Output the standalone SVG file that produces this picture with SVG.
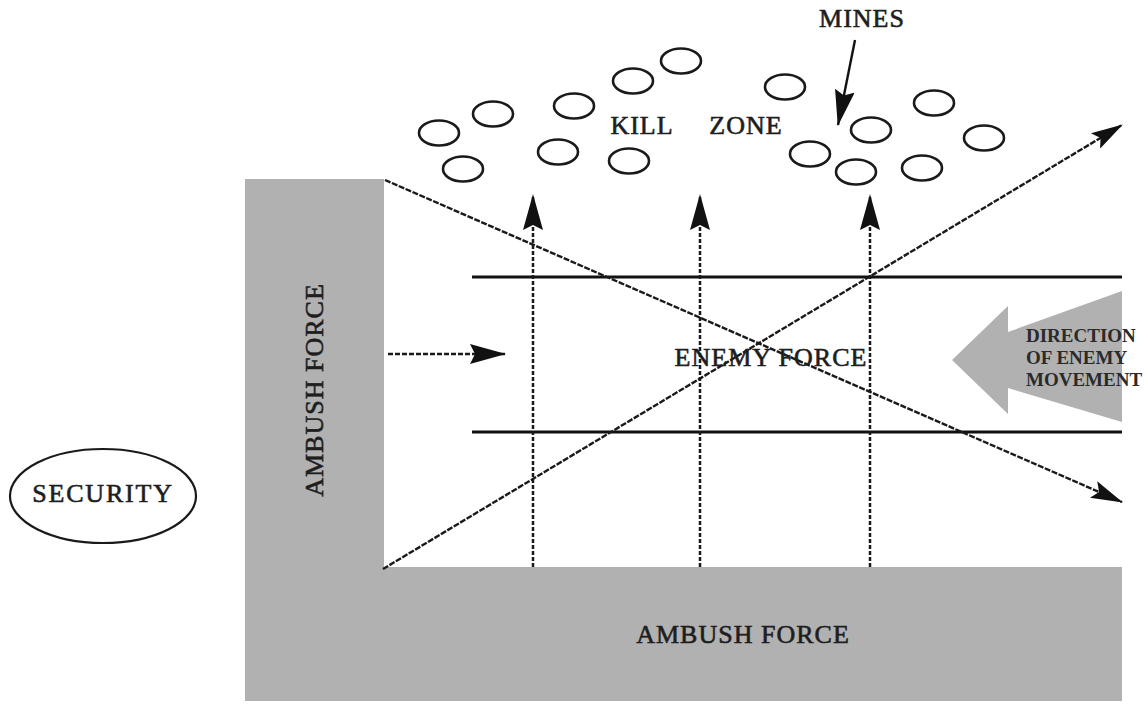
<svg xmlns="http://www.w3.org/2000/svg" width="1148" height="705" viewBox="0 0 1148 705">
<style>
.t{font-family:"Liberation Serif","Times New Roman",serif;font-size:26px;letter-spacing:1px;fill:#1e1e1e;stroke:#1e1e1e;stroke-width:0.6px;text-anchor:middle}
.d{font-family:"Liberation Serif","Times New Roman",serif;font-size:19px;font-weight:bold;fill:#2a2a2a}
.gray{fill:#b1b1b1}
.mine{fill:none;stroke:#1a1a1a;stroke-width:2.6}
.solid{stroke:#111;stroke-width:3.2;fill:none}
.diag{stroke:#1a1a1a;stroke-width:2.4;fill:none;stroke-dasharray:6 1.5}
.vdash{stroke:#1a1a1a;stroke-width:2.5;fill:none;stroke-dasharray:4 2}
.hdash{stroke:#1a1a1a;stroke-width:2.4;fill:none;stroke-dasharray:5 2}
</style>
<defs>
<marker id="ah" markerUnits="userSpaceOnUse" markerWidth="36" markerHeight="20" viewBox="0 0 36 20" refX="35" refY="10" orient="auto"><path d="M0,0 L36,10 L0,20 L5,10 z" fill="#111"/></marker>
<marker id="ah2" markerUnits="userSpaceOnUse" markerWidth="32" markerHeight="18" viewBox="0 0 32 18" refX="31" refY="9" orient="auto"><path d="M0,0 L32,9 L0,18 L6,9 z" fill="#111"/></marker>
</defs>
<rect width="1148" height="705" fill="#fff"/>

<g id="ambush-force-left">
<rect class="gray" x="245" y="179" width="139" height="522"/>
<text class="t" transform="translate(323,390) rotate(-90)">AMBUSH FORCE</text>
</g>
<g id="ambush-force-bottom">
<rect class="gray" x="245" y="567" width="877" height="134"/>
<text class="t" x="743" y="643">AMBUSH FORCE</text>
</g>

<g id="security">
<ellipse cx="103" cy="496" rx="93" ry="47" fill="none" stroke="#1a1a1a" stroke-width="2.2"/>
<text class="t" x="103" y="502" style="letter-spacing:1.8px">SECURITY</text>
</g>

<g id="kill-zone">
<text class="t" x="642" y="134">KILL</text>
<text class="t" x="746" y="134">ZONE</text>
</g>

<g id="mines">
<text class="t" x="862" y="27">MINES</text>
<ellipse class="mine" cx="439" cy="133" rx="20" ry="12.5"/>
<ellipse class="mine" cx="493" cy="114" rx="20" ry="12.5"/>
<ellipse class="mine" cx="463" cy="169" rx="20" ry="12.5"/>
<ellipse class="mine" cx="574" cy="106" rx="20" ry="12.5"/>
<ellipse class="mine" cx="558" cy="152" rx="20" ry="12.5"/>
<ellipse class="mine" cx="633" cy="81" rx="20" ry="12.5"/>
<ellipse class="mine" cx="681" cy="61" rx="20" ry="12.5"/>
<ellipse class="mine" cx="629" cy="161" rx="20" ry="12.5"/>
<ellipse class="mine" cx="785" cy="87" rx="20" ry="12.5"/>
<ellipse class="mine" cx="810" cy="154" rx="20" ry="12.5"/>
<ellipse class="mine" cx="871" cy="130" rx="20" ry="12.5"/>
<ellipse class="mine" cx="856" cy="172" rx="20" ry="12.5"/>
<ellipse class="mine" cx="934" cy="103" rx="20" ry="12.5"/>
<ellipse class="mine" cx="922" cy="168" rx="20" ry="12.5"/>
<ellipse class="mine" cx="984" cy="138" rx="20" ry="12.5"/>
</g>

<g id="enemy-lane">
<line class="solid" x1="472" y1="277" x2="1122" y2="277"/>
<line class="solid" x1="472" y1="432" x2="1122" y2="432"/>
</g>

<g id="direction-of-enemy-movement">
<polygon class="gray" points="952,360 1008,306 1008,332 1122,291 1122,422 1008,388 1008,414"/>
<text class="d" x="1026" y="342">DIRECTION</text>
<text class="d" x="1026" y="364">OF ENEMY</text>
<text class="d" x="1026" y="386">MOVEMENT</text>
</g>

<g id="connectors">
<line class="diag" x1="385" y1="180" x2="1122" y2="502" marker-end="url(#ah2)"/>
<line class="diag" x1="383" y1="569" x2="1122" y2="125" marker-end="url(#ah2)"/>
<line class="vdash" x1="533" y1="567" x2="533" y2="195" marker-end="url(#ah)"/>
<line class="vdash" x1="700" y1="567" x2="700" y2="195" marker-end="url(#ah)"/>
<line class="vdash" x1="870" y1="567" x2="870" y2="195" marker-end="url(#ah)"/>
<line class="hdash" x1="388" y1="354" x2="505" y2="354" marker-end="url(#ah)"/>
<line stroke="#111" stroke-width="2.4" x1="855" y1="40" x2="838" y2="125" marker-end="url(#ah)"/>
</g>

<g id="enemy-force">
<text class="t" x="771" y="366">ENEMY FORCE</text>
</g>
</svg>
